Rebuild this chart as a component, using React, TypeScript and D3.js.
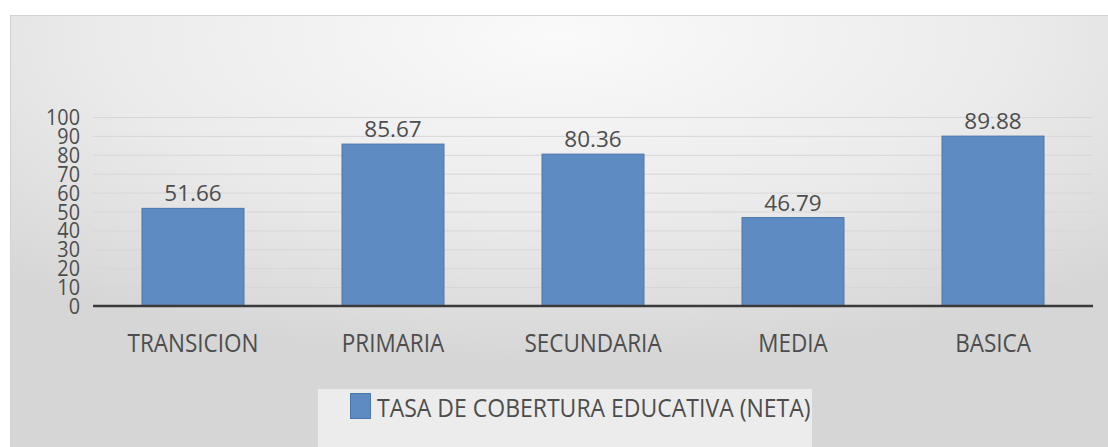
import React from 'react';
import * as d3 from 'd3';

const categories = ['TRANSICION', 'PRIMARIA', 'SECUNDARIA', 'MEDIA', 'BASICA'];
const tasaNeta = [51.66, 85.67, 80.36, 46.79, 89.88];
const yTicks = [0, 10, 20, 30, 40, 50, 60, 70, 80, 90, 100];
const seriesName = 'TASA DE COBERTURA EDUCATIVA (NETA)';

const W = 1108;
const H = 447;
const FONT = '"Open Sans", "DejaVu Sans", sans-serif';
const TEXT = '#4d4d4d';

export default function App() {
  const x = d3
    .scaleBand<string>()
    .domain(categories)
    .range([93, 1093])
    .paddingInner(0.49)
    .paddingOuter(0.245);

  const y = d3.scaleLinear().domain([0, 100]).range([306, 117]);

  // texto un poco comprimido en horizontal, como en el original
  const squeeze = (cx: number, cy: number, sx: number) =>
    `translate(${cx},${cy}) scale(${sx},1)`;

  return (
    <svg
      width={W}
      height={H}
      style={{ position: 'absolute', left: 0, top: 0 }}
      fontFamily={FONT}
    >
      <defs>
        <radialGradient id="bg" cx="0.5" cy="0.05" r="0.75" fx="0.5" fy="0.05">
          <stop offset="0" stopColor="#fafafa" />
          <stop offset="0.55" stopColor="#ebebeb" />
          <stop offset="1" stopColor="#d6d6d6" />
        </radialGradient>
      </defs>
      <rect x={0} y={0} width={W} height={H} fill="#ffffff" />
      <rect x={10} y={15} width={W - 10} height={H - 15} fill="url(#bg)" />
      <line x1={10} x2={W} y1={15.5} y2={15.5} stroke="#d2d2d2" />
      <line x1={10.5} x2={10.5} y1={15} y2={H} stroke="#d2d2d2" />

      {/* lineas de la grilla */}
      {yTicks
        .filter(t => t > 0)
        .map(t => (
          <line
            key={t}
            x1={93}
            x2={1093}
            y1={y(t) + 0.5}
            y2={y(t) + 0.5}
            stroke="#d7d7d7"
            strokeWidth={1}
          />
        ))}

      {/* etiquetas del eje y */}
      {yTicks.map(t => (
        <text
          key={t}
          transform={squeeze(80, y(t) + 8, 0.9)}
          textAnchor="end"
          fontSize={22}
          fill={TEXT}
        >
          {t}
        </text>
      ))}

      {/* barras */}
      {categories.map((c, i) => (
        <rect
          key={c}
          x={x(c)!}
          y={y(tasaNeta[i])}
          width={x.bandwidth()}
          height={y(0) - y(tasaNeta[i])}
          fill="#5f8bc3"
          stroke="#4b76ab"
          strokeWidth={1}
        />
      ))}

      {/* valores */}
      {categories.map((c, i) => (
        <text
          key={c}
          transform={squeeze(x(c)! + x.bandwidth() / 2, y(tasaNeta[i]) - 7, 1)}
          textAnchor="middle"
          fontSize={22.5}
          fill={TEXT}
        >
          {tasaNeta[i].toFixed(2)}
        </text>
      ))}

      <line x1={93} x2={1093} y1={y(0)} y2={y(0)} stroke="#3a3a3a" strokeWidth={2.5} />

      {/* categorias */}
      {categories.map(c => (
        <text
          key={c}
          transform={squeeze(x(c)! + x.bandwidth() / 2, 352, 0.9)}
          textAnchor="middle"
          fontSize={25}
          fill={TEXT}
        >
          {c}
        </text>
      ))}

      {/* leyenda */}
      <rect x={318} y={389} width={494} height={H - 389} fill="#ececec" />
      <rect x={350.5} y={393.5} width={20} height={25} fill="#5f8bc3" stroke="#4b76ab" />
      <text transform={squeeze(377, 417, 0.92)} fontSize={25} fill={TEXT}>
        {seriesName}
      </text>
    </svg>
  );
}
